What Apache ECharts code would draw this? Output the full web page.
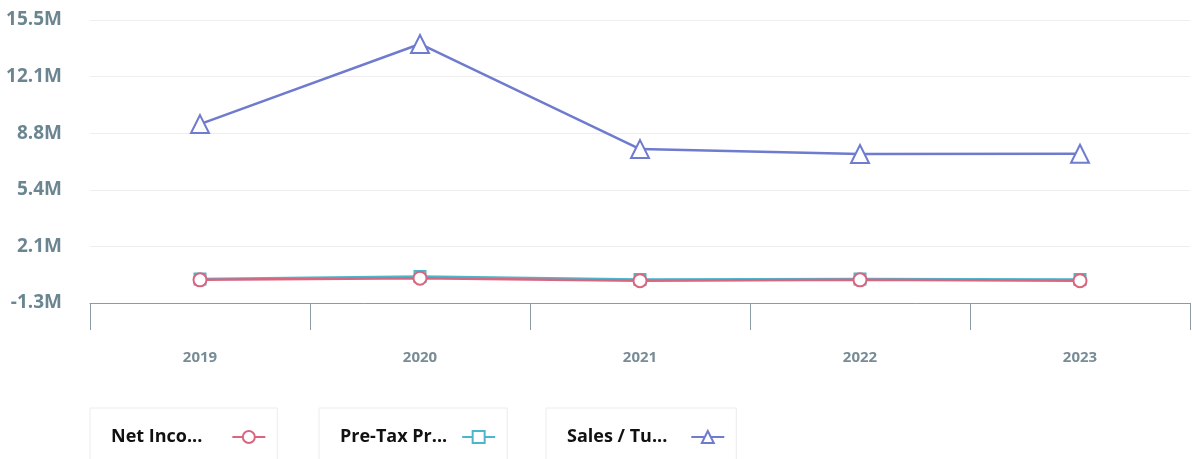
<!DOCTYPE html>
<html>
<head>
<meta charset="utf-8">
<script src="https://cdn.jsdelivr.net/npm/echarts@6/dist/echarts.min.js"></script>
<style>
    html, body { margin: 0; padding: 0; background: #fff; }
    #chart { width: 1192px; height: 459px; }
</style>
</head>
<body>
<div id="chart"></div>
<script>
// data (values in millions)
var years = ['2019', '2020', '2021', '2022', '2023'];
var netIncome = [0.10, 0.20, 0.05, 0.10, 0.05];
var preTaxProfit = [0.15, 0.30, 0.12, 0.15, 0.12];
var salesTurnover = [9.32, 14.06, 7.84, 7.55, 7.56];
var yTickLabels = ['-1.3M', '2.1M', '5.4M', '8.8M', '12.1M', '15.5M'];
var legendLabels = ['Net Inco...', 'Pre-Tax Pr...', 'Sales / Tu...'];
var seriesNames = ['Net Income', 'Pre-Tax Profit', 'Sales / Turnover'];

var font = '"Open Sans", sans-serif';
var colors = ['#d9657f', '#4cb6cc', '#6f7bcf'];

// legend boxes: one per series, text padded so the icon lines up
function makeLegend(i, left, textPadRight) {
    return {
        data: [seriesNames[i]],
        left: left,
        top: 408,
        orient: 'horizontal',
        align: 'right',
        padding: [20, 11, 22, 21],
        borderColor: '#ececec',
        borderWidth: 1,
        itemWidth: 33,
        itemHeight: 15,
        selectedMode: false,
        formatter: function () { return legendLabels[i] },
        textStyle: {
            fontFamily: font,
            fontWeight: 'bold',
            fontSize: 18,
            color: '#111',
            padding: [0, textPadRight, 0, 0]
        }
    }
}

function lineSeries(i, data, symbol, size, w) {
    return {
        name: seriesNames[i],
        type: 'line',
        data: data,
        symbol: symbol,
        symbolSize: size,
        lineStyle: { width: w, color: colors[i] },
        itemStyle: { color: '#fff', borderColor: colors[i], borderWidth: 2 }
    }
}

var chart = echarts.init(document.getElementById('chart'))
var option = {
    animation: false,
    grid: { left: 90, right: 2, top: 20, bottom: 156 },
    legend: [
        makeLegend(0, 90, 25),
        makeLegend(1, 319, 10),
        makeLegend(2, 546, 19)
    ],
    xAxis: {
        type: 'category',
        data: years,
        boundaryGap: true,
        axisLine: { onZero: false, lineStyle: { color: '#8c9ca4', width: 1 } },
        axisTick: { show: true, inside: false, length: 27, lineStyle: { color: '#8c9ca4', width: 1 } },
        axisLabel: {
            margin: 47,
            fontFamily: font,
            fontWeight: 'bold',
            fontSize: 15,
            color: '#788c96'
        }
    },
    yAxis: [
        { // scale for the data
            type: 'value',
            min: -1.27,
            max: 15.48,
            show: false
        },
        { // ticks + labels
            type: 'value',
            min: 0,
            max: 5,
            interval: 1,
            position: 'left',
            axisLine: { show: false },
            axisTick: { show: false },
            splitLine: { lineStyle: { color: '#eeeeee' } },
            axisLabel: {
                margin: 28,
                fontFamily: font,
                fontWeight: 'bold',
                fontSize: 19,
                color: '#6b8591',
                formatter: function (v) { return yTickLabels[Math.round(v)] }
            }
        }
    ],
    series: [
        lineSeries(1, preTaxProfit, 'rect', 11, 2.5),
        lineSeries(0, netIncome, 'circle', 13, 2.5),
        lineSeries(2, salesTurnover, 'triangle', 18, 2.5)
    ]
}
chart.setOption(option)
</script>
</body>
</html>
